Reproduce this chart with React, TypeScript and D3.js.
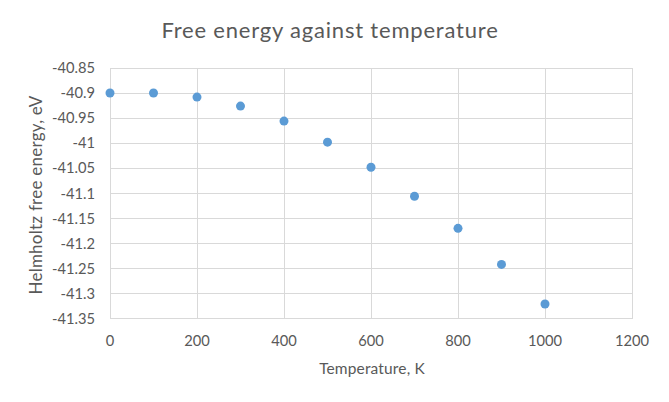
import { useEffect, useRef } from "react";
import * as d3 from "d3";

const temperatures = [0, 100, 200, 300, 400, 500, 600, 700, 800, 900, 1000];
const freeEnergy = [
  -40.9, -40.9, -40.908, -40.926, -40.956, -40.998, -41.048, -41.106, -41.17,
  -41.242, -41.321,
];
const xTicks = [0, 200, 400, 600, 800, 1000, 1200];
const yTicks = [
  -40.85, -40.9, -40.95, -41, -41.05, -41.1, -41.15, -41.2, -41.25, -41.3,
  -41.35,
];

const font = "Lato, Open Sans, sans-serif";
const textColor = "#595959";

export default function App() {
  const svgRef = useRef<SVGSVGElement>(null);

  useEffect(() => {
    if (!svgRef.current) return;
    const svg = d3.select(svgRef.current);
    svg.selectAll("*").remove();

    const left = 110;
    const right = 632;
    const top = 68;
    const bottom = 318.5;

    const x = d3.scaleLinear().domain([0, 1200]).range([left, right]);
    const y = d3.scaleLinear().domain([-40.85, -41.35]).range([top, bottom]);

    svg
      .append("rect")
      .attr("width", 669)
      .attr("height", 402)
      .attr("fill", "#fff");

    // Gridlines
    svg
      .append("g")
      .selectAll("line")
      .data(yTicks)
      .enter()
      .append("line")
      .attr("x1", left)
      .attr("x2", right)
      .attr("y1", (d) => y(d))
      .attr("y2", (d) => y(d))
      .attr("stroke", "#D9D9D9")
      .attr("shape-rendering", "crispEdges");

    svg
      .append("g")
      .selectAll("line")
      .data(xTicks)
      .enter()
      .append("line")
      .attr("x1", (d) => x(d))
      .attr("x2", (d) => x(d))
      .attr("y1", top)
      .attr("y2", bottom)
      .attr("stroke", "#D9D9D9")
      .attr("shape-rendering", "crispEdges");

    // Tick labels (plain hyphen minus, like the source)
    svg
      .append("g")
      .selectAll("text")
      .data(yTicks)
      .enter()
      .append("text")
      .attr("x", 95)
      .attr("y", (d) => y(d))
      .attr("dy", "0.36em")
      .attr("text-anchor", "end")
      .attr("fill", textColor)
      .attr("font-family", font)
      .attr("font-size", "14.7px")
      .text((d) => String(d));

    svg
      .append("g")
      .selectAll("text")
      .data(xTicks)
      .enter()
      .append("text")
      .attr("x", (d) => x(d))
      .attr("y", 345.5)
      .attr("text-anchor", "middle")
      .attr("fill", textColor)
      .attr("font-family", font)
      .attr("font-size", "14.7px")
      .text((d) => d);

    // Points
    svg
      .append("g")
      .selectAll("circle")
      .data(temperatures)
      .enter()
      .append("circle")
      .attr("cx", (d) => x(d))
      .attr("cy", (_, i) => y(freeEnergy[i]))
      .attr("r", 4.5)
      .attr("fill", "#5B9BD5");

    // Titles
    svg
      .append("text")
      .attr("x", 330)
      .attr("y", 38)
      .attr("text-anchor", "middle")
      .attr("fill", textColor)
      .attr("font-family", font)
      .attr("font-size", "22px")
      .attr("letter-spacing", "0.8px")
      .text("Free energy against temperature");

    svg
      .append("text")
      .attr("x", 372)
      .attr("y", 373.5)
      .attr("text-anchor", "middle")
      .attr("fill", textColor)
      .attr("font-family", font)
      .attr("font-size", "15.5px")
      .attr("letter-spacing", "0.15px")
      .text("Temperature, K");

    svg
      .append("text")
      .attr("transform", `translate(42,195) rotate(-90)`)
      .attr("text-anchor", "middle")
      .attr("fill", textColor)
      .attr("font-family", font)
      .attr("font-size", "17px")
      .attr("letter-spacing", "0.25px")
      .text("Helmholtz free energy, eV");
  }, []);

  return (
    <div style={{ margin: -8 }}>
      <svg ref={svgRef} width={669} height={402} style={{ display: "block" }} />
    </div>
  );
}
